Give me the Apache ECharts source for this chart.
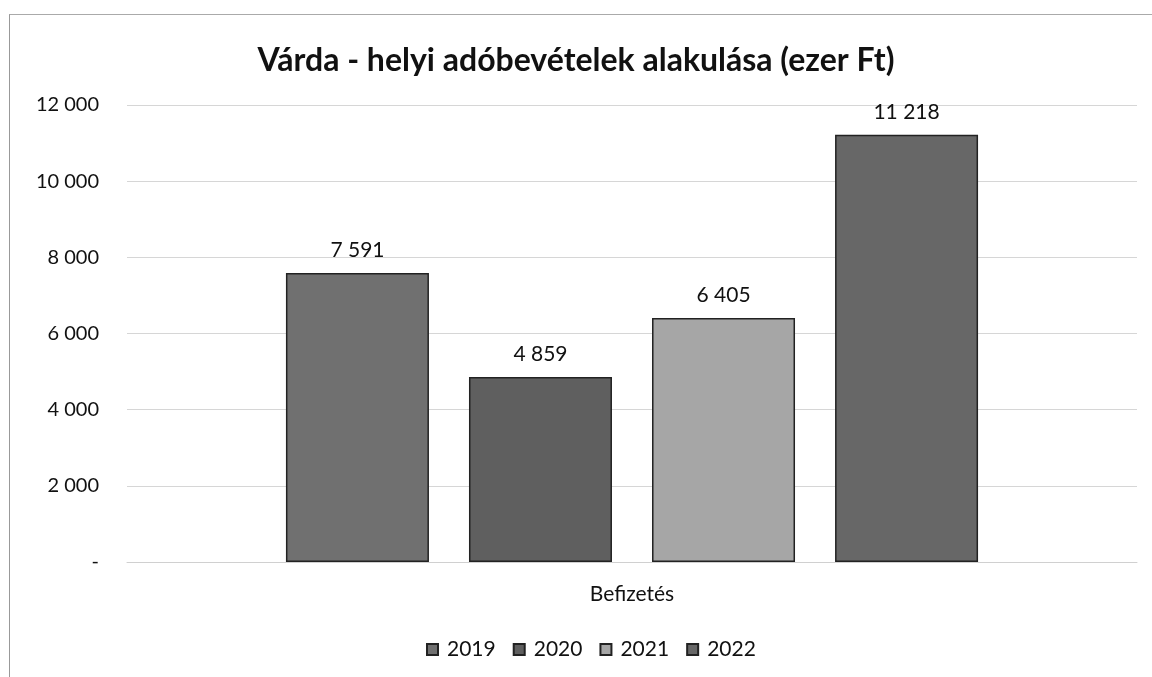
<!DOCTYPE html>
<html>
<head>
<meta charset="utf-8">
<script src="https://cdn.jsdelivr.net/npm/echarts@6/dist/echarts.min.js"></script>
<style>
  html, body { margin: 0; padding: 0; background: #fff; }
  #chart { width: 1152px; height: 677px; }
  #frame {
    position: absolute; left: 9px; top: 14px; width: 1200px; height: 700px;
    border-left: 1px solid #999; border-top: 1px solid #aaa; pointer-events: none;
  }
</style>
</head>
<body>
<div id="chart"></div>
<div id="frame"></div>
<script>
const categories = ['Befizetés'];
const years = ['2019', '2020', '2021', '2022'];
const values = [[7591], [4859], [6405], [11218]];
const colors = ['#707070', '#5f5f5f', '#a6a6a6', '#676767'];

const fmt = v => v === 0 ? '-' : String(v).replace(/\B(?=(\d{3})+(?!\d))/g, ' ');

const myChart = echarts.init(document.getElementById('chart'));

myChart.setOption({
  textStyle: { fontFamily: 'Lato' },
  title: {
    text: 'Várda - helyi adóbevételek alakulása (ezer Ft)',
    left: 'center',
    top: 40,
    textStyle: { color: '#111', fontSize: 32, fontWeight: 'bold', fontFamily: 'Lato' }
  },
  legend: {
    data: years,
    bottom: 12,
    left: 421,
    itemWidth: 11,
    itemHeight: 11,
    itemGap: 17,
    icon: 'rect',
    textStyle: { color: '#111', fontSize: 21, padding: [0, 0, 0, 4] }
  },
  grid: { left: 127, right: 15, top: 105, bottom: 115 },
  xAxis: {
    type: 'category',
    data: categories,
    axisTick: { show: false },
    axisLine: { lineStyle: { color: '#d0d0d0' } },
    axisLabel: { color: '#111', fontSize: 21, margin: 22 }
  },
  yAxis: {
    type: 'value',
    min: 0,
    max: 12000,
    interval: 2000,
    axisLine: { show: false },
    axisTick: { show: false },
    splitLine: { lineStyle: { color: '#d6d6d6' } },
    axisLabel: { color: '#111', fontSize: 20, margin: 28, formatter: fmt }
  },
  series: years.map((y, i) => ({
    name: y,
    type: 'bar',
    data: values[i],
    barWidth: 143,
    barGap: '28%',
    itemStyle: { color: colors[i], borderColor: '#222', borderWidth: 1.5 },
    label: {
      show: true,
      position: 'top',
      distance: 12,
      color: '#111',
      fontSize: 21,
      formatter: p => fmt(p.value)
    }
  }))
});
</script>
</body>
</html>
